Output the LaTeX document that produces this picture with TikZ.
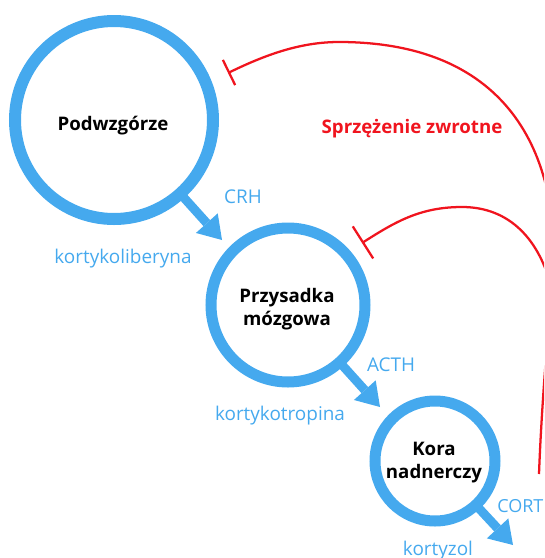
\documentclass[tikz,border=0pt]{standalone}
\usepackage{fontspec}
\setmainfont{Open Sans}
\usetikzlibrary{arrows.meta}
\definecolor{cblue}{HTML}{45A9EE}
\definecolor{cred}{HTML}{F0141E}
\begin{document}
\begin{tikzpicture}[x=0.75pt,y=-0.75pt,
  organ/.style={circle,draw=cblue,inner sep=0pt,outer sep=0pt},
  organtext/.style={font=\fontsize{14}{17}\selectfont\bfseries,text=black,anchor=base,align=center,inner sep=0pt},
  hormone/.style={font=\fontsize{14.2}{17}\selectfont,text=cblue,anchor=base,inner sep=0pt},
  flow/.style={draw=cblue,line width=6.75pt,-{Triangle[length=17pt,width=22pt,line width=0pt]}},
  feedback/.style={draw=cred,line width=1.7pt},
]
\useasboundingbox (0,0) rectangle (544,558);
\clip (0,0) rectangle (544,558);

% organs
\node[organ,line width=9pt,minimum size=148.5pt] (hyp) at (114,120) {};
\node[organ,line width=8.25pt,minimum size=115.5pt] (pit) at (288,305) {};
\node[organ,line width=8.25pt,minimum size=90pt] (adr) at (435,461) {};

% arrow ends
\coordinate (hypOut) at (222,240);
\coordinate (pitOut) at (380,407);
\coordinate (adrOut) at (513,545);

\draw[flow] (hyp) -- (hypOut);
\draw[flow] (pit) -- (pitOut);
\draw[flow] (adr) -- (adrOut);

% organ names (base anchor = baseline of the last line)
\node[organtext] (hypText) at (113,130) {Podwzgórze};
\node[organtext] (pitText) at (287,325) {Przysadka\\mózgowa};
\node[organtext] (adrText) at (434,478.5) {Kora\\nadnerczy};

% hormones
\node[hormone] (crh) at (243,203) {CRH};
\node[hormone] (crhName) at (123,263) {kortykoliberyna};
\node[hormone] (acth) at (391,371) {ACTH};
\node[hormone] (acthName) at (280,420) {kortykotropina};
\node[hormone,anchor=base west,font=\fontsize{13.5}{17}\selectfont] (cort) at (497,512) {CORT};
\node[hormone] (cortName) at (438,555) {kortyzol};

% feedback
\node[font=\fontsize{14}{17}\selectfont\bfseries,text=cred,anchor=base,inner sep=0pt] (fbText) at (412,133) {Sprzężenie zwrotne};

\coordinate (fbStart) at (539,474);
\coordinate (fbJoin) at (552,290);
\coordinate (fbOuterEnd) at (228,73);
\coordinate (fbInnerEnd) at (362,243);

\draw[feedback,-{Bar[width=21pt]}] (fbStart) .. controls (541,420) and (546,350) .. (fbJoin)
   .. controls (564,170) and (520,42) .. (339,42)
   .. controls (300,42) and (265,55) .. (fbOuterEnd);
\draw[feedback,-{Bar[width=28.5pt]}] (fbJoin) .. controls (540,240) and (510,207) .. (462,207)
   .. controls (420,207) and (395,222) .. (fbInnerEnd);
\end{tikzpicture}
\end{document}
